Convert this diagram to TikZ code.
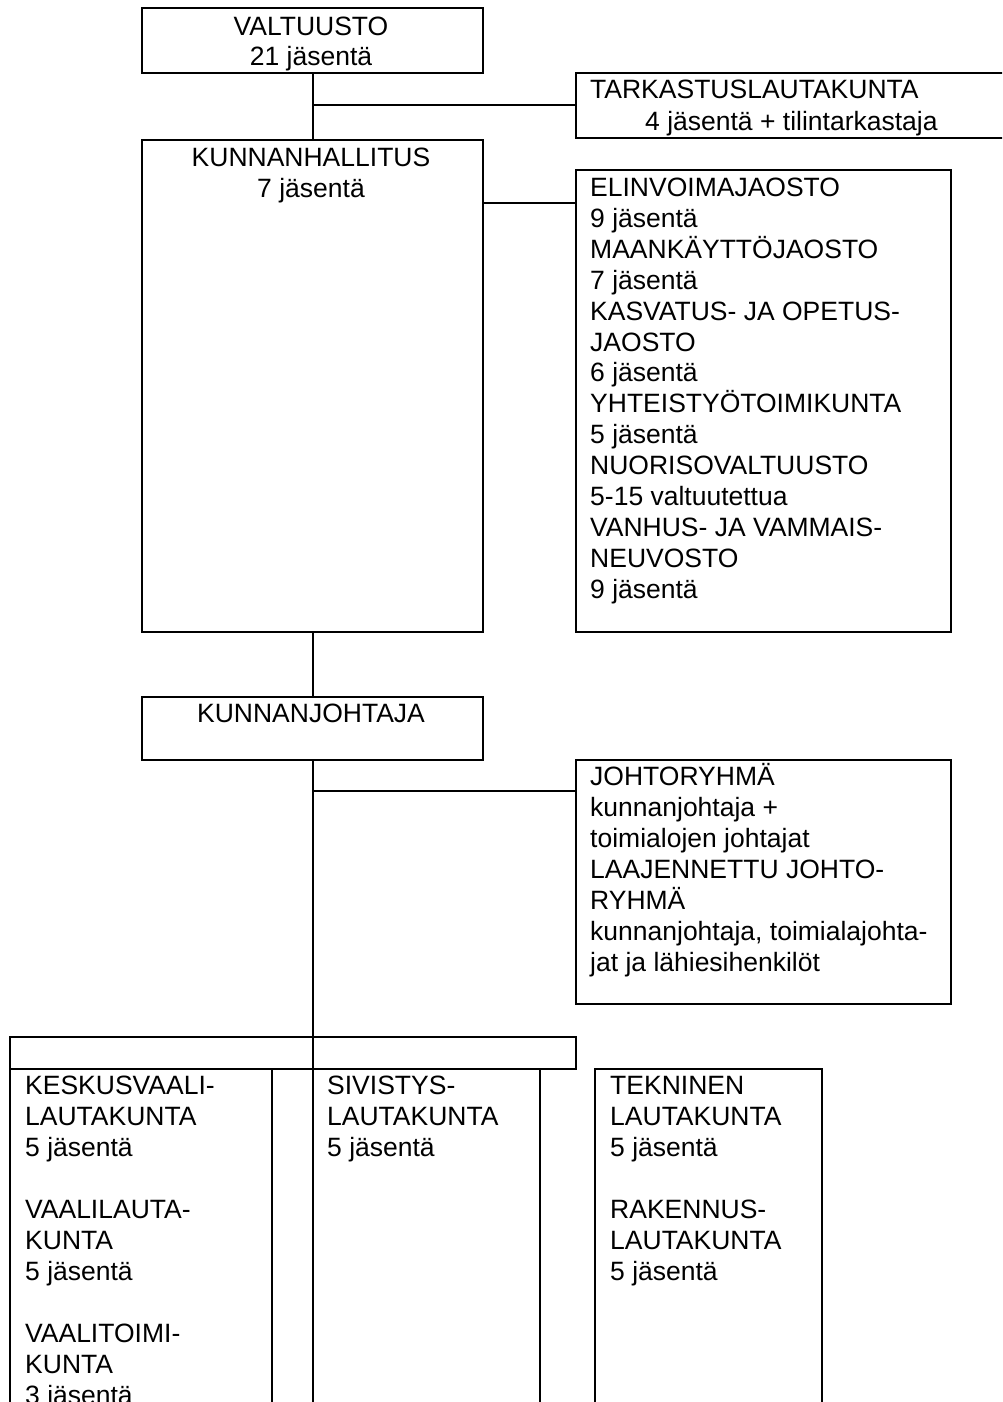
\documentclass[tikz,border=0pt]{standalone}
\usepackage{fontspec}
\setmainfont{Liberation Sans}
\begin{document}
\begin{tikzpicture}[x=1pt,y=-1pt,
  box/.style={draw,line width=2pt,inner sep=0pt},
  ln/.style={line width=2pt},
  txt/.style={anchor=base west,inner sep=0pt,font=\fontsize{26.5}{31}\selectfont},
  ctxt/.style={anchor=base,inner sep=0pt,font=\fontsize{26.5}{31}\selectfont}]
\useasboundingbox (0,0) rectangle (1002,1402);
\clip (0,0) rectangle (1002,1402);
% boxes
\node[box,minimum width=341pt,minimum height=65pt] (valt) at (312.5,40.5) {};
\node[box,minimum width=440pt,minimum height=65pt] (tark) at (796,105.5) {};
\node[box,minimum width=341pt,minimum height=492pt] (kh) at (312.5,386) {};
\node[box,minimum width=375pt,minimum height=462pt] (elin) at (763.5,401) {};
\node[box,minimum width=341pt,minimum height=63pt] (kj) at (312.5,728.5) {};
\node[box,minimum width=375pt,minimum height=244pt] (joht) at (763.5,882) {};
\node[box,minimum width=566pt,minimum height=32pt] (strip) at (293,1053) {};
\node[box,minimum width=262pt,minimum height=360pt] (kesk) at (141,1249) {};
\node[box,minimum width=227pt,minimum height=360pt] (siv) at (426,1249) {};
\node[box,minimum width=227pt,minimum height=360pt] (tekn) at (708.5,1249) {};
% connectors
\draw[ln] (valt.south) -- (kh.north);
\draw[ln] (tark.west) -- (tark.west -| valt.south);
\coordinate (c1) at (483,203);
\draw[ln] (c1) -- (c1 -| elin.west);
\draw[ln] (kh.south) -- (kj.north);
\draw[ln] (kj.south) -- (kj.south |- siv.north);
\coordinate (c2) at (312.5,791);
\draw[ln] (c2) -- (c2 -| joht.west);
% texts
\node[ctxt] (t1) at (311,36) {VALTUUSTO};
\node[ctxt] (t2) at (311,66) {21 jäsentä};
\node[txt] (t3) at (590,99) {TARKASTUSLAUTAKUNTA};
\node[txt] (t4) at (645,131) {4 jäsentä + tilintarkastaja};
\node[ctxt] (t5) at (311,166) {KUNNANHALLITUS};
\node[ctxt] (t6) at (311,197) {7 jäsentä};
\foreach \t [count=\i] in {ELINVOIMAJAOSTO,9 jäsentä,MAANKÄYTTÖJAOSTO,7 jäsentä,KASVATUS- JA OPETUS-,JAOSTO,6 jäsentä,YHTEISTYÖTOIMIKUNTA,5 jäsentä,NUORISOVALTUUSTO,5-15 valtuutettua,VANHUS- JA VAMMAIS-,NEUVOSTO,9 jäsentä}
  \node[txt] (e\i) at (590,196.5+30.9*\i-30.9) {\t};
\node[ctxt] (t7) at (311,722) {KUNNANJOHTAJA};
\foreach \t [count=\i] in {JOHTORYHMÄ,kunnanjohtaja +,toimialojen johtajat,LAAJENNETTU JOHTO-,RYHMÄ,{kunnanjohtaja, toimialajohta-},jat ja lähiesihenkilöt}
  \node[txt] (j\i) at (590,785+31*\i-31) {\t};
\foreach \t/\k in {KESKUSVAALI-/0,LAUTAKUNTA/1,5 jäsentä/2,VAALILAUTA-/4,KUNTA/5,5 jäsentä/6,VAALITOIMI-/8,KUNTA/9,3 jäsentä/10}
  \node[txt] (k\k) at (25,1094+31*\k) {\t};
\foreach \t/\k in {SIVISTYS-/0,LAUTAKUNTA/1,5 jäsentä/2}
  \node[txt] (s\k) at (327,1094+31*\k) {\t};
\foreach \t/\k in {TEKNINEN/0,LAUTAKUNTA/1,5 jäsentä/2,RAKENNUS-/4,LAUTAKUNTA/5,5 jäsentä/6}
  \node[txt] (r\k) at (610,1094+31*\k) {\t};
\end{tikzpicture}
\end{document}
